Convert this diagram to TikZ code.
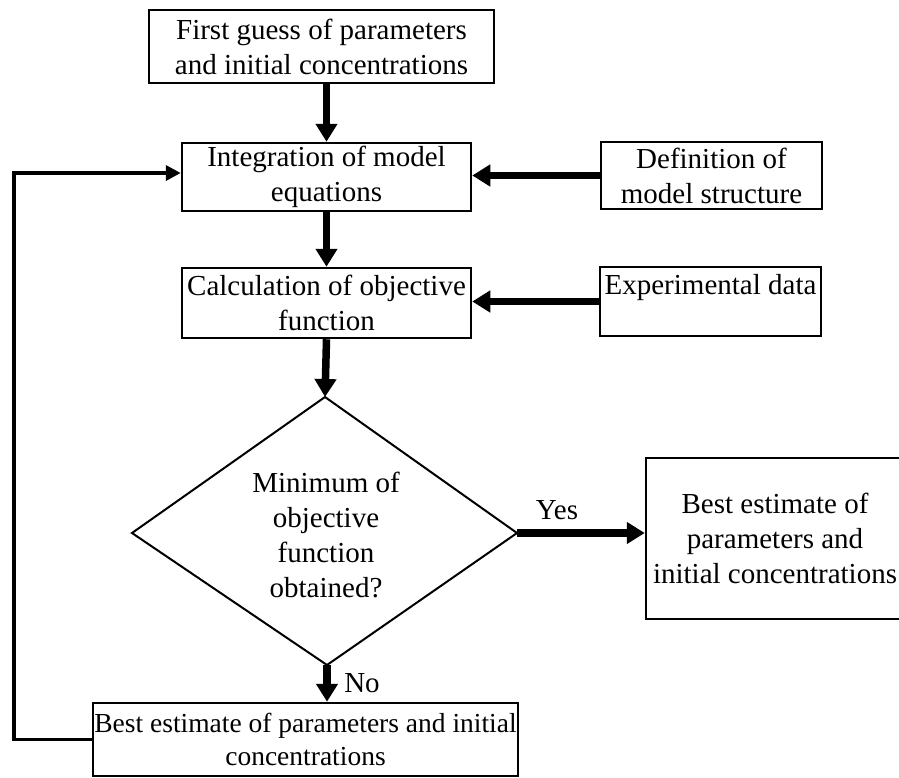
\documentclass[tikz,border=0pt]{standalone}
\usepackage{fontspec}
\setmainfont{Liberation Serif}
\usetikzlibrary{arrows.meta}
\begin{document}
\begin{tikzpicture}[x=1pt,y=-1pt,
  box/.style={draw, line width=2.5pt, inner sep=0pt, align=center, font=\fontsize{29}{35}\selectfont},
  bigarrow/.style={line width=7.5pt, -{Triangle[length=18pt,width=21pt]}},
  looparrow/.style={line width=3.5pt, -{Triangle[length=15pt,width=15pt]}},
  lbl/.style={font=\fontsize{29}{35}\selectfont, inner sep=0pt, align=center}]
\useasboundingbox (0,0) rectangle (899,777);
\node[box, minimum width=345pt, minimum height=73pt] (b1) at (321.5,46.5) {First guess of parameters\\and initial concentrations};
\node[box, minimum width=289pt, minimum height=68pt] (b2) at (326.5,177) {Integration of model\\equations};
\node[box, minimum width=221pt, minimum height=67pt] (b3) at (711.5,175.5) {Definition of\\model structure};
\node[box, minimum width=289pt, minimum height=70pt] (b4) at (326.5,303) {Calculation of objective\\function};
\node[box, minimum width=221pt, minimum height=69pt] (b5) at (710.5,301.5) {Experimental data\\\phantom{x}};
\node[box, minimum width=258pt, minimum height=161pt] (b6) at (775,538.5) {Best estimate of\\parameters and\\initial concentrations};
\node[box, minimum width=425pt, minimum height=73pt, font=\fontsize{27.5}{33}\selectfont] (b7) at (305.5,739.5) {Best estimate of parameters and initial\\concentrations};
\coordinate (dtop) at (325,397);
\coordinate (dright) at (517,533);
\coordinate (dbot) at (327,665);
\coordinate (dleft) at (132,533);
\draw[line width=2pt] (dtop) -- (dright) -- (dbot) -- (dleft) -- cycle;
\node[lbl] (dtext) at (326,535) {Minimum of\\objective\\function\\obtained?};
\draw[bigarrow] (b2.north |- b1.south) -- (b2.north);
\draw[bigarrow] (b2.south) -- (b4.north);
\draw[bigarrow] (b3.west) -- (b3.west -| b2.east);
\draw[bigarrow] (b5.west) -- (b5.west -| b4.east);
\draw[bigarrow] (b4.south) -- (dtop);
\draw[bigarrow] (dright) -- (dright -| b6.west);
\draw[bigarrow] (dbot) -- (dbot |- b7.north);
\node[lbl] (yes) at (557,510) {Yes};
\node[lbl] (no) at (362,683) {No};
\coordinate (lb) at (14,738);
\coordinate (lt) at (14,173);
\draw[looparrow] (b7.west) -- (b7.west -| lb) -- (lt) -- (lt -| b2.west);
\end{tikzpicture}
\end{document}
